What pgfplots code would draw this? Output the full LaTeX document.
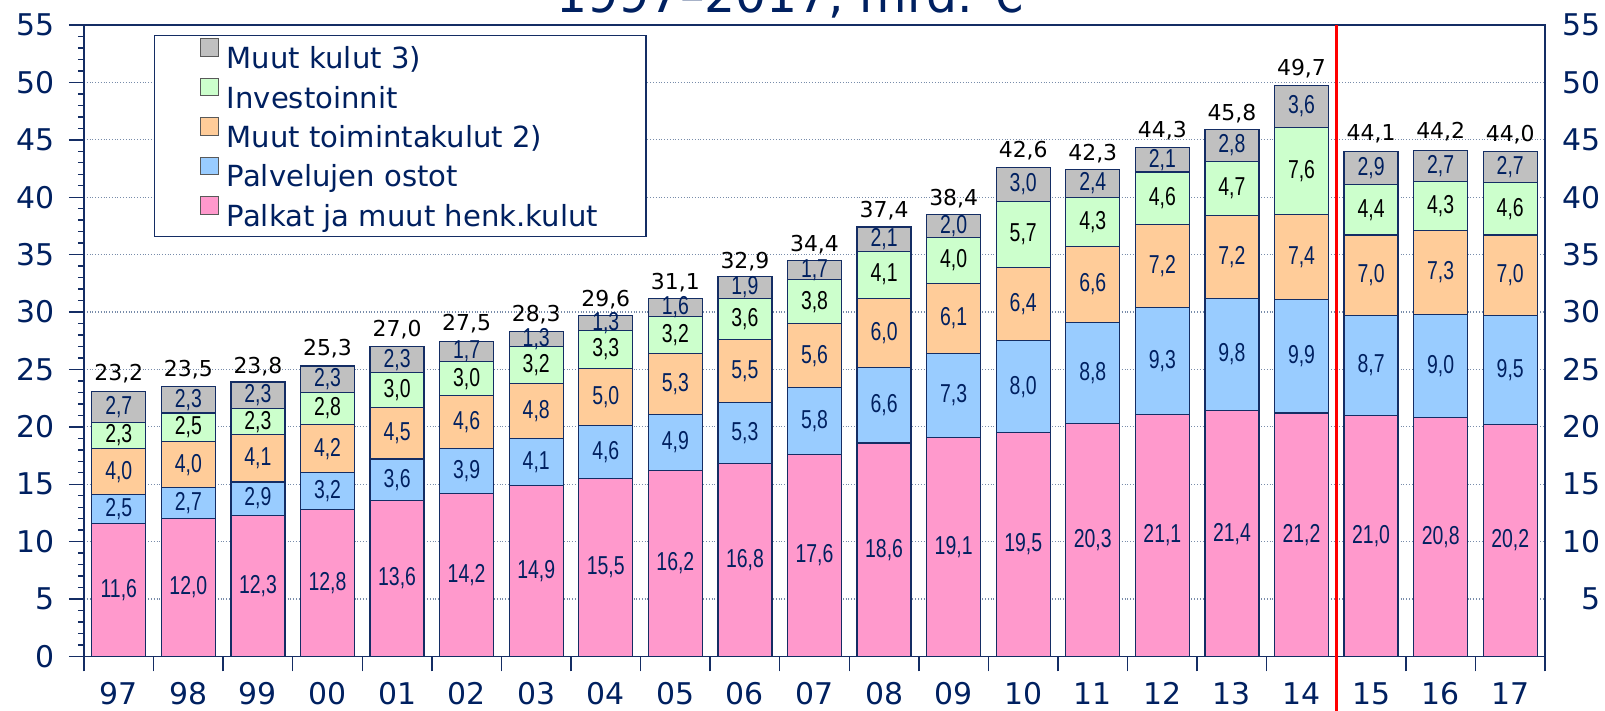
\documentclass[border=0pt]{standalone}
\usepackage{pgfplots}
\pgfplotsset{compat=1.18}
\usepackage{pgfplotstable}
\usepackage{fontspec}
\setmainfont{DejaVu Sans}
\newfontfamily\narrowfont[FakeStretch=0.75]{Liberation Sans}
\definecolor{navy}{RGB}{0,32,96}
\definecolor{edgec}{RGB}{20,45,100}
\definecolor{cpink}{RGB}{255,153,204}
\definecolor{cblue}{RGB}{153,204,255}
\definecolor{corange}{RGB}{255,204,153}
\definecolor{cgreen}{RGB}{204,255,204}
\definecolor{cgrey}{RGB}{192,192,192}
\definecolor{gridc}{RGB}{120,140,170}
\definecolor{cred}{RGB}{255,0,0}

\pgfplotstableread{
x pal pos mtk inv muu tot
0 11.6 2.5 4.0 2.3 2.7 23.2
1 12.0 2.7 4.0 2.5 2.3 23.5
2 12.3 2.9 4.1 2.3 2.3 23.8
3 12.8 3.2 4.2 2.8 2.3 25.3
4 13.6 3.6 4.5 3.0 2.3 27.0
5 14.2 3.9 4.6 3.0 1.7 27.5
6 14.9 4.1 4.8 3.2 1.3 28.3
7 15.5 4.6 5.0 3.3 1.3 29.6
8 16.2 4.9 5.3 3.2 1.6 31.1
9 16.8 5.3 5.5 3.6 1.9 32.9
10 17.6 5.8 5.6 3.8 1.7 34.4
11 18.6 6.6 6.0 4.1 2.1 37.4
12 19.1 7.3 6.1 4.0 2.0 38.4
13 19.5 8.0 6.4 5.7 3.0 42.6
14 20.3 8.8 6.6 4.3 2.4 42.3
15 21.1 9.3 7.2 4.6 2.1 44.3
16 21.4 9.8 7.2 4.7 2.8 45.8
17 21.2 9.9 7.4 7.6 3.6 49.7
18 21.0 8.7 7.0 4.4 2.9 44.1
19 20.8 9.0 7.3 4.3 2.7 44.2
20 20.2 9.5 7.0 4.6 2.7 44.0
}\data

\pgfplotsset{
  lab/.style={draw=none, mark=none,
    nodes near coords={\pgfmathprintnumber[fixed,fixed zerofill,precision=1,use comma]{\pgfplotspointmeta}},
    every node near coord/.style={anchor=center, inner sep=0pt,
      font=\narrowfont\fontsize{13}{14}\selectfont, text=#1}},
}

\begin{document}
\begin{tikzpicture}
\begin{axis}[
  name=main,
  width=730.5bp, height=315.75bp, scale only axis,
  ybar stacked, bar width=0.776,
  xmin=-0.5, xmax=20.5, ymin=0, ymax=55,
  clip=false,
  axis line style={draw=edgec, line width=0.8bp},
  tick style={draw=edgec, line width=0.7bp},
  tick align=outside,
  major tick length=7.5bp, minor tick length=3bp,
  xtick={-0.5,0.5,...,20.5},
  xticklabels={97,98,99,00,01,02,03,04,05,06,07,08,09,10,11,12,13,14,15,16,17,{}},
  xticklabel style={xshift=17.4bp, yshift=-2bp, font=\fontsize{15}{18}\selectfont, text=navy},
  xtick pos=bottom,
  ytick={0,5,...,55}, ytick pos=left,
  minor y tick num=4,
  yticklabel style={font=\fontsize{15}{18}\selectfont, text=navy, xshift=-3.5bp},
  /pgf/number format/assume math mode=true,
  ymajorgrids,
  major grid style={densely dotted, draw=gridc, line width=0.6bp},
  legend style={at={(0.0476,0.9845)}, anchor=north west, draw=edgec, line width=0.6bp,
    fill=white, font=\fontsize{14.6}{17}\selectfont, text=navy,
    inner xsep=23bp, inner ysep=1.5bp, row sep=1bp, column sep=3bp,
    nodes={inner sep=1bp, text height=12.5bp, text depth=2.5bp}},
  legend cell align=left,
  reverse legend,
  legend image code/.code={
    \draw[#1, draw=gray!70!black, line width=0.5bp] (0bp,1.1bp) rectangle (8.85bp,9.95bp);
  },
]
\addplot[fill=cpink, draw=edgec, line width=0.6bp] table[x=x, y=pal] {\data};
\addlegendentry{Palkat ja muut henk.kulut}
\addplot[fill=cblue, draw=edgec, line width=0.6bp] table[x=x, y=pos] {\data};
\addlegendentry{Palvelujen ostot}
\addplot[fill=corange, draw=edgec, line width=0.6bp] table[x=x, y=mtk] {\data};
\addlegendentry{Muut toimintakulut 2)}
\addplot[fill=cgreen, draw=edgec, line width=0.6bp] table[x=x, y=inv] {\data};
\addlegendentry{Investoinnit}
\addplot[fill=cgrey, draw=edgec, line width=0.6bp] table[x=x, y=muu] {\data};
\addlegendentry{Muut kulut 3)}
\draw[cred, line width=1.7bp] (axis cs:17.5,55) -- (axis cs:17.5,-5);
\end{axis}
\begin{axis}[
  at={(main.south west)}, anchor=south west,
  width=730.5bp, height=315.75bp, scale only axis,
  xmin=-0.5, xmax=20.5, ymin=0, ymax=55,
  clip=false,
  axis x line=none, axis y line*=right,
  axis line style={draw=none},
  ytick={5,10,...,55}, major tick length=0pt,
  yticklabel style={font=\fontsize{15}{18}\selectfont, text=navy, anchor=east, xshift=31.5bp},
  /pgf/number format/assume math mode=true,
]
% segment labels at the middle of each segment
\addplot[lab=navy, point meta=\thisrow{pal}] table[x=x, y expr=\thisrow{pal}/2] {\data};
\addplot[lab=navy, point meta=\thisrow{pos}] table[x=x, y expr=\thisrow{pal}+\thisrow{pos}/2] {\data};
\addplot[lab=navy, point meta=\thisrow{mtk}] table[x=x, y expr=\thisrow{pal}+\thisrow{pos}+\thisrow{mtk}/2] {\data};
\addplot[lab=black, point meta=\thisrow{inv}] table[x=x, y expr=\thisrow{pal}+\thisrow{pos}+\thisrow{mtk}+\thisrow{inv}/2] {\data};
\addplot[lab=navy, point meta=\thisrow{muu}] table[x=x, y expr=\thisrow{pal}+\thisrow{pos}+\thisrow{mtk}+\thisrow{inv}+\thisrow{muu}/2] {\data};
% totals above the bars
\addplot[draw=none, mark=none,
  nodes near coords={\pgfmathprintnumber[fixed,fixed zerofill,precision=1,use comma]{\pgfplotspointmeta}},
  point meta=\thisrow{tot},
  every node near coord/.style={anchor=base, yshift=5bp, inner sep=0pt,
    font=\fontsize{11}{13}\selectfont, text=black}]
  table[x=x, y=tot] {\data};
\end{axis}
\node[anchor=base, font=\fontsize{24.5}{28}\selectfont, text=navy] at ([xshift=-12bp,yshift=6.25bp]main.north) {1997–2017, mrd. €};
\pgfresetboundingbox
\useasboundingbox ([xshift=-42bp,yshift=-27.25bp]main.south west) rectangle ([xshift=30bp,yshift=12.5bp]main.north east);
\end{tikzpicture}
\end{document}
